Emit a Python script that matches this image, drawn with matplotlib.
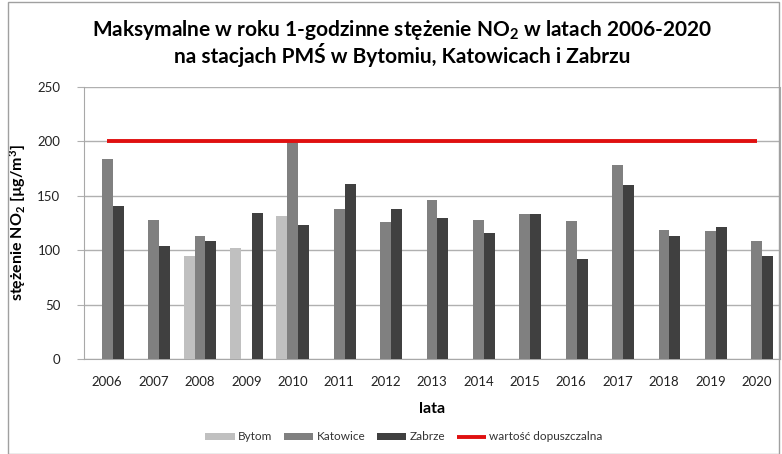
import numpy as np
import matplotlib
matplotlib.use("Agg")
import matplotlib.pyplot as plt
from matplotlib.patches import Rectangle

plt.rcParams['font.family'] = ['Lato', 'DejaVu Sans']
plt.rcParams['mathtext.fontset'] = 'custom'
plt.rcParams['mathtext.rm'] = 'Lato'
plt.rcParams['mathtext.bf'] = 'Lato:bold'
plt.rcParams['mathtext.it'] = 'Lato:italic'

years = [str(y) for y in range(2006, 2021)]
bytom = [np.nan, np.nan, 95, 102, 131, np.nan, np.nan, np.nan, np.nan, np.nan,
         np.nan, np.nan, np.nan, np.nan, np.nan]
katowice = [184, 128, 113, np.nan, 199, 138, 126, 146, 128, 133, 127, 178, 119, 118, 108]
zabrze = [141, 104, 108, 134, 123, 161, 138, 130, 116, 133, 92, 160, 113, 121, 95]
limit = [200] * len(years)

series_names = ['Bytom', 'Katowice', 'Zabrze']
series_colors = ['#c0c0c0', '#808080', '#404040']
limit_name = 'wartość dopuszczalna'
limit_color = '#e01010'

fig = plt.figure(figsize=(7.82, 4.54), dpi=100)
ax = fig.add_axes([84/782, 1-359/454, 696/782, 272/454])

x = np.arange(len(years))
w = 0.237
for i, (vals, name, col) in enumerate(zip([bytom, katowice, zabrze], series_names, series_colors)):
    ax.bar(x + (i - 1) * w, vals, width=w, color=col, label=name, zorder=3)
ax.plot(x, limit, color=limit_color, lw=2.8, label=limit_name, zorder=4, solid_capstyle='butt')

ax.set_xlim(-0.5, len(years) - 0.5)
ax.set_ylim(0, 250)
ax.set_yticks(range(0, 251, 50))
ax.set_xticks(x)
ax.set_xticklabels(years)
ax.grid(axis='y', color='#b0b0b0', lw=1, zorder=0)
ax.tick_params(axis='x', length=0, labelsize=9.5, colors='#222222', pad=12)
ax.tick_params(axis='y', length=5, labelsize=9.5, colors='#222222', color='#b0b0b0', pad=12)
ax.spines['top'].set_visible(False)
for s in ['left', 'bottom', 'right']:
    ax.spines[s].set_color('#a8a8a8')

ax.set_xlabel('lata', fontsize=11.5, fontweight='bold', labelpad=10)
ax.set_ylabel(r'stężenie NO$_\mathbf{2}$ [µg/m$^\mathbf{3}$]', fontsize=11.5, fontweight='bold', labelpad=7)

fig.text(402/782, 1-30/454, r'Maksymalne w roku 1-godzinne stężenie NO$_\mathbf{2}$ w latach 2006-2020',
         ha='center', va='center', fontsize=15, fontweight='bold')
fig.text(402/782, 1-55/454, 'na stacjach PMŚ w Bytomiu, Katowicach i Zabrzu',
         ha='center', va='center', fontsize=15, fontweight='bold')

handles, labels = ax.get_legend_handles_labels()
order = [1, 2, 3, 0]
leg = fig.legend([handles[i] for i in order], [labels[i] for i in order],
                 loc='center', bbox_to_anchor=(404/782, 1-437/454), ncol=4, frameon=False,
                 fontsize=8.5, handlelength=2.5, handleheight=0.55, columnspacing=1.0,
                 handletextpad=0.25)
for t in leg.get_texts():
    t.set_color('#333333')

fig.patches.append(Rectangle((8/782, 0), 771/782, 1-1.5/454, transform=fig.transFigure,
                             fill=False, edgecolor='#a0a0a0', lw=1))

fig.savefig('out.png', dpi=100)
